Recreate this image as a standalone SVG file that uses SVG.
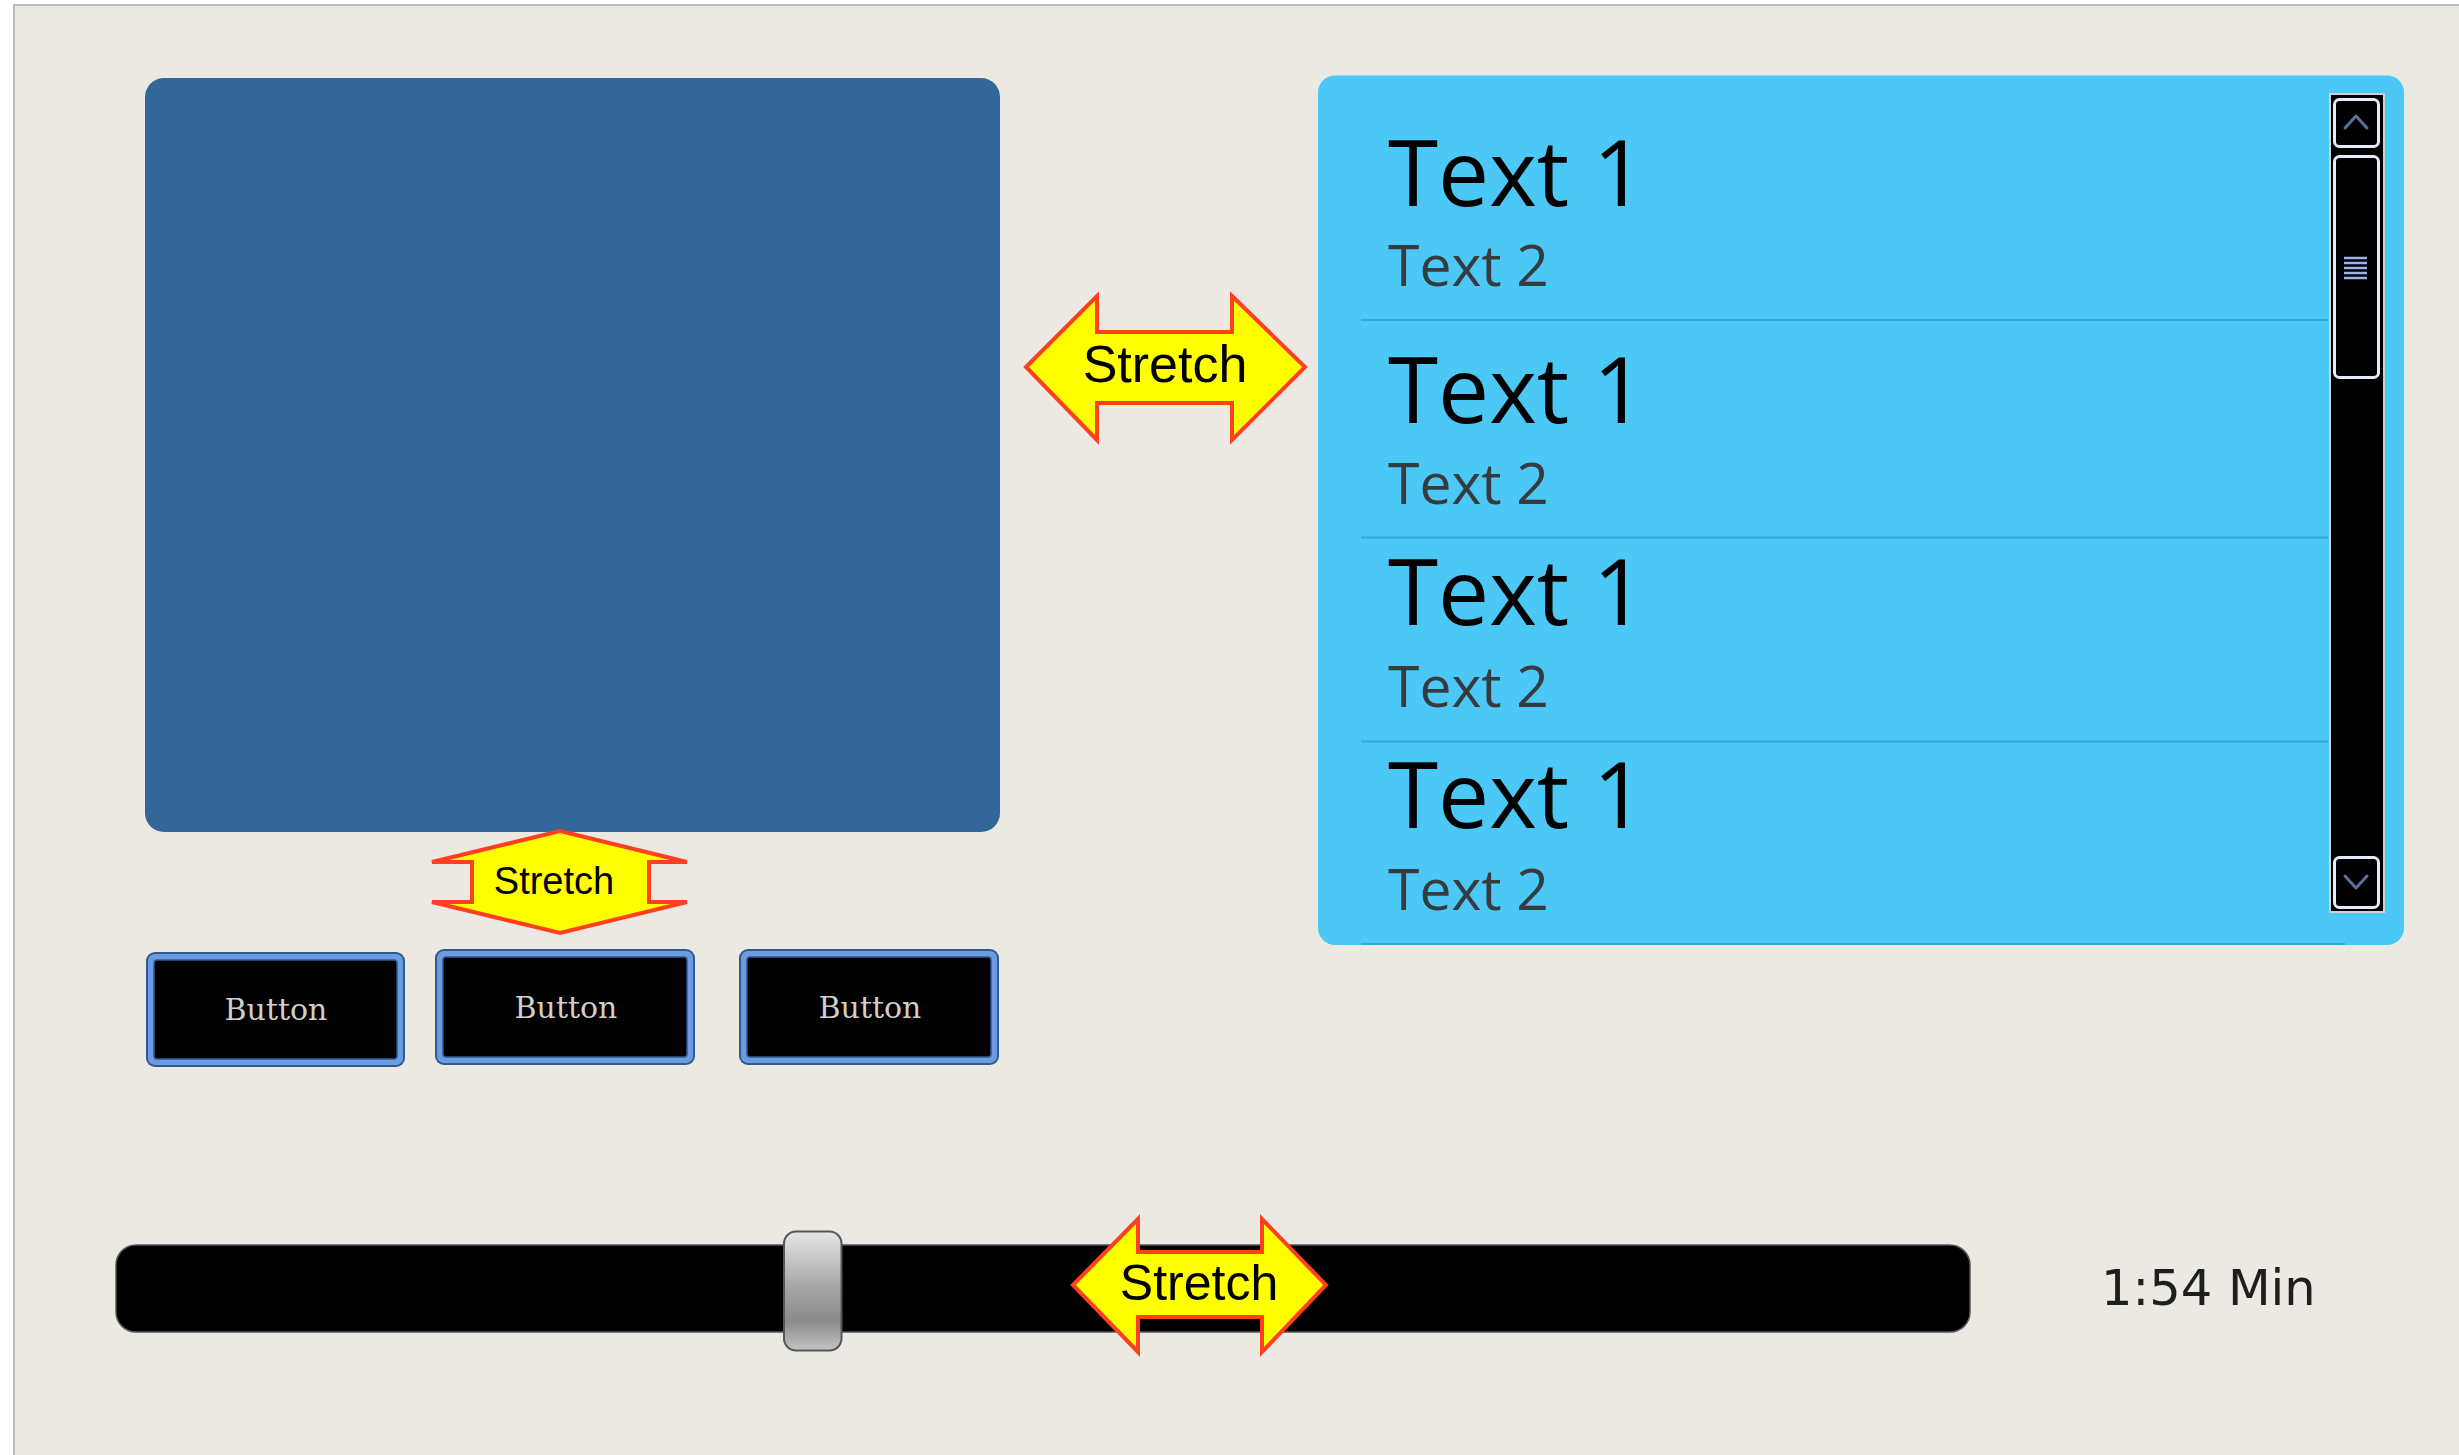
<svg xmlns="http://www.w3.org/2000/svg" width="2459" height="1455" viewBox="0 0 2459 1455">
<defs>
<style>
.stretch{fill:#FFFF00;stroke:#FF4020;stroke-width:4;stroke-linejoin:miter}
.stxt{font-family:"Liberation Sans",Arial,sans-serif;fill:#000;text-anchor:middle}
.t1{font-family:"Open Sans","Noto Sans",sans-serif;font-size:91px;fill:#000}
.t2{font-family:"Open Sans","Noto Sans",sans-serif;font-size:57px;fill:#363b3e}
.sep{stroke:#3AA6D2;stroke-width:2}
.btnOuter{fill:#2B5B91}
.btnBand{fill:#6E9AE0}
.btnInner{fill:#000;stroke:#2B5B91;stroke-width:1.5}
.btxt{font-family:"DejaVu Serif",serif;font-size:30px;fill:#CFCFCF;text-anchor:middle}
.sbBtn{fill:#000;stroke:#E6EAF8;stroke-width:3}
.chev{fill:none;stroke:#5A7099;stroke-width:3;stroke-linecap:round;stroke-linejoin:round}
.grip{stroke:#9AB2E8;stroke-width:2.5}
</style>
<linearGradient id="thumbGrad" x1="0" y1="0" x2="0" y2="1">
<stop offset="0" stop-color="#E6E6E6"/>
<stop offset="0.45" stop-color="#A8A8A8"/>
<stop offset="0.75" stop-color="#8A8A8A"/>
<stop offset="1" stop-color="#C4C4C4"/>
</linearGradient>
</defs>
<rect x="0" y="0" width="2459" height="1455" fill="#FFFFFF"/>
<rect id="frame" x="14" y="5" width="2460" height="1470" fill="#ECE9E3" stroke="#BDBDBD" stroke-width="2"/>

<g id="image-area">
<rect x="145" y="78" width="855" height="754" rx="19" fill="#336699"/>
</g>

<g id="list-panel">
<rect x="1318" y="75.5" width="1086" height="869.5" rx="17" fill="#4BC8F6"/>
<line class="sep" x1="1361" y1="320" x2="2328" y2="320"/>
<line class="sep" x1="1361" y1="537.5" x2="2328" y2="537.5"/>
<line class="sep" x1="1361" y1="741.5" x2="2328" y2="741.5"/>
<line class="sep" x1="1361" y1="944" x2="2345" y2="944"/>
<g id="row1"><text class="t1" x="1388" y="206">Text 1</text><text class="t2" x="1388" y="286">Text 2</text></g>
<g id="row2"><text class="t1" x="1388" y="423">Text 1</text><text class="t2" x="1388" y="504">Text 2</text></g>
<g id="row3"><text class="t1" x="1388" y="625">Text 1</text><text class="t2" x="1388" y="707">Text 2</text></g>
<g id="row4"><text class="t1" x="1388" y="828">Text 1</text><text class="t2" x="1388" y="910">Text 2</text></g>
<g id="scrollbar">
<rect x="2330" y="94" width="54" height="818" fill="#000" stroke="#D0D0D0" stroke-width="2"/>
<rect class="sbBtn" x="2334.5" y="99.5" width="44" height="47" rx="5"/>
<polyline class="chev" points="2345,128 2356,116 2367,128"/>
<rect class="sbBtn" x="2334.5" y="156.5" width="44" height="221" rx="5"/>
<line class="grip" x1="2344" y1="258" x2="2367" y2="258"/>
<line class="grip" x1="2344" y1="263" x2="2367" y2="263"/>
<line class="grip" x1="2344" y1="268" x2="2367" y2="268"/>
<line class="grip" x1="2344" y1="273" x2="2367" y2="273"/>
<line class="grip" x1="2344" y1="278" x2="2367" y2="278"/>
<rect class="sbBtn" x="2334.5" y="857.5" width="44" height="50" rx="5"/>
<polyline class="chev" points="2345,876 2356,888 2367,876"/>
</g>
</g>

<g id="stretch-horizontal-top">
<polygon class="stretch" points="1026,367 1097,296 1097,332 1232,332 1232,296 1305,367 1232,440 1232,403 1097,403 1097,440"/>
<text class="stxt" x="1165" y="382" font-size="52">Stretch</text>
</g>

<g id="stretch-vertical">
<polygon class="stretch" points="560,831 687,862 649,862 649,902 687,902 560,933 432,902 472,902 472,862 432,862"/>
<text class="stxt" x="554" y="894" font-size="38">Stretch</text>
</g>

<g id="button1">
<rect class="btnOuter" x="146" y="952" width="259" height="115" rx="9"/>
<rect class="btnBand" x="148" y="954" width="255" height="111" rx="7"/>
<rect class="btnInner" x="154" y="960" width="243" height="99" rx="3"/>
<text class="btxt" x="276" y="1020">Button</text>
</g>
<g id="button2">
<rect class="btnOuter" x="435" y="949" width="260" height="116" rx="9"/>
<rect class="btnBand" x="437" y="951" width="256" height="112" rx="7"/>
<rect class="btnInner" x="443" y="957" width="244" height="100" rx="3"/>
<text class="btxt" x="566" y="1018">Button</text>
</g>
<g id="button3">
<rect class="btnOuter" x="739" y="949" width="260" height="116" rx="9"/>
<rect class="btnBand" x="741" y="951" width="256" height="112" rx="7"/>
<rect class="btnInner" x="747" y="957" width="244" height="100" rx="3"/>
<text class="btxt" x="870" y="1018">Button</text>
</g>

<g id="slider">
<rect x="116" y="1245" width="1854" height="87" rx="20" fill="#000" stroke="#555" stroke-width="1.5"/>
<rect x="784" y="1231.5" width="57.5" height="119" rx="12" fill="url(#thumbGrad)" stroke="#555" stroke-width="2"/>
</g>

<g id="stretch-horizontal-slider">
<polygon class="stretch" points="1073,1285 1138,1219 1138,1252 1262,1252 1262,1219 1326,1285 1262,1352 1262,1317 1138,1317 1138,1352"/>
<text class="stxt" x="1199" y="1300" font-size="50">Stretch</text>
</g>

<g id="time-label">
<text x="2101" y="1305" font-family="DejaVu Sans,sans-serif" font-size="49.5" fill="#1E1E1E">1:54 Min</text>
</g>
</svg>
